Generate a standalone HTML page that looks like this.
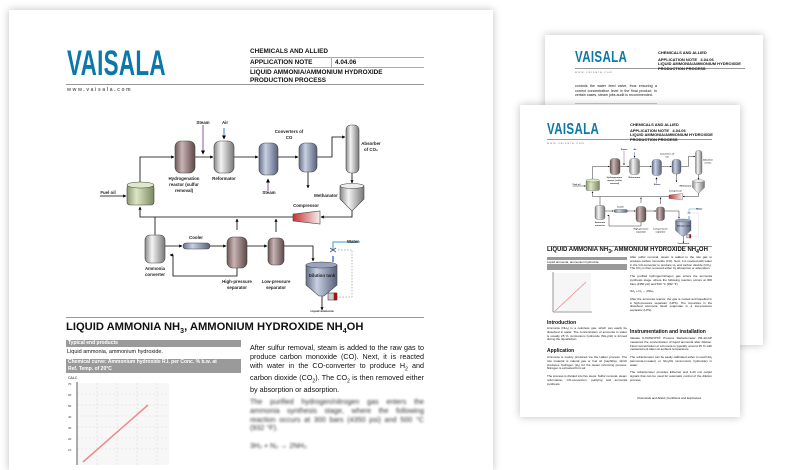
<!DOCTYPE html>
<html><head><meta charset="utf-8">
<style>
*{margin:0;padding:0;box-sizing:border-box}
body{width:800px;height:450px;overflow:hidden;background:#fff;font-family:"Liberation Sans",sans-serif;position:relative}
.pg{position:absolute;background:#fff;box-shadow:0 0 8px rgba(0,0,0,.25)}
.a{position:absolute;white-space:nowrap;color:#111}
.logo{position:absolute;font-weight:bold;color:#0a78a8;letter-spacing:.5px;font-family:"Liberation Sans",sans-serif;transform-origin:0 0}
.hl{position:absolute;background:#999;height:1px}
.bar{position:absolute;background:#9a9a9a;color:#fff;font-weight:bold}
.j{position:absolute;text-align:justify;color:#111}
</style></head><body>
<svg width="0" height="0" style="position:absolute">
<defs>
<linearGradient id="gr" x1="0" x2="1"><stop offset="0" stop-color="#888"/><stop offset=".35" stop-color="#f4f4f4"/><stop offset="1" stop-color="#777"/></linearGradient>
<linearGradient id="br" x1="0" x2="1"><stop offset="0" stop-color="#6d5555"/><stop offset=".35" stop-color="#c8b4b4"/><stop offset="1" stop-color="#5e4848"/></linearGradient>
<linearGradient id="bl" x1="0" x2="1"><stop offset="0" stop-color="#66708a"/><stop offset=".35" stop-color="#c8d0e2"/><stop offset="1" stop-color="#56607a"/></linearGradient>
<linearGradient id="gn" x1="0" x2="1"><stop offset="0" stop-color="#8c9a70"/><stop offset=".35" stop-color="#dde6c4"/><stop offset="1" stop-color="#7a8860"/></linearGradient>
<linearGradient id="rd" x1="0" x2="1"><stop offset="0" stop-color="#c83030"/><stop offset="1" stop-color="#f2f2f2"/></linearGradient>
<marker id="ar" markerWidth="4" markerHeight="4" refX="3.5" refY="2" orient="auto"><path d="M0,0L4,2L0,4z" fill="#000"/></marker>
<symbol id="dg" viewBox="95 118 290 200">
<g stroke="#000" stroke-width=".8" fill="none">
<path d="M100,196H126" marker-end="url(#ar)"/>
<path d="M140,183V157H174" marker-end="url(#ar)"/>
<path d="M195,157H213" marker-end="url(#ar)"/>
<path d="M234,157H258" marker-end="url(#ar)"/>
<path d="M278,157H298" marker-end="url(#ar)"/>
<path d="M317,157H332V137H345" marker-end="url(#ar)"/>
<path d="M308,172V188" marker-end="url(#ar)"/>
<path d="M352,172V183" marker-end="url(#ar)"/>
<path d="M352,210V217H321" marker-end="url(#ar)"/>
<path d="M293,217H140V207" marker-end="url(#ar)"/>
<path d="M237,230V219" marker-end="url(#ar)"/>
<path d="M276,232V219" marker-end="url(#ar)"/>
<path d="M155,217V235"/>
<path d="M165,246H182" marker-end="url(#ar)"/>
<path d="M210,246H226" marker-end="url(#ar)"/>
<path d="M247,246H267" marker-end="url(#ar)"/>
<path d="M284,246H313V261" marker-end="url(#ar)"/>
<path d="M237,267V276H173V255H170" marker-end="url(#ar)"/>
<path d="M322,296V310" marker-end="url(#ar)"/>
</g>
<path d="M203,125V154" stroke="#8a5aa8" stroke-width="1" marker-end="url(#ar)"/>
<path d="M224,128V139" stroke="#3a7ad8" stroke-width="1" marker-end="url(#ar)"/>
<path d="M268,191V179" stroke="#8a5aa8" stroke-width="1" marker-end="url(#ar)"/>
<path d="M360,242H333V250" stroke="#3a9ad8" stroke-width="1" fill="none"/>
<path d="M333,256V262" stroke="#3a7ad8" stroke-width="1.5"/>
<path d="M338,250H352V297H334" stroke="#999" stroke-width=".7" stroke-dasharray="1.5,1.5" fill="none"/>
<g stroke="#444" stroke-width=".6">
<rect x="127" y="185" width="27" height="20" rx="3" fill="url(#gn)"/><ellipse cx="140.5" cy="185" rx="13.5" ry="3" fill="#dfe8c8"/>
<rect x="175" y="141" width="20" height="32" rx="6" fill="url(#br)"/>
<rect x="214" y="141" width="20" height="32" rx="6" fill="url(#gr)"/>
<rect x="259" y="143" width="19" height="32" rx="6" fill="url(#bl)"/>
<rect x="299" y="143" width="18" height="29" rx="6" fill="url(#bl)"/>
<rect x="346" y="125" width="13" height="48" rx="5" fill="url(#gr)"/>
<path d="M340,186H364V199L352,211L340,199Z" fill="url(#gr)"/><ellipse cx="352" cy="186" rx="12" ry="2.5" fill="#eee"/>
<path d="M293,214L320,211V224L293,221Z" fill="url(#rd)"/>
<rect x="145" y="235" width="20" height="28" rx="5" fill="url(#gr)"/>
<rect x="183" y="243" width="27" height="6" rx="3" fill="url(#bl)"/>
<rect x="227" y="237" width="20" height="31" rx="6" fill="url(#br)"/>
<rect x="268" y="238" width="16" height="27" rx="5" fill="url(#br)"/>
<path d="M306,265H337V285L324,296H319L306,285Z" fill="url(#bl)"/><ellipse cx="321.5" cy="265" rx="15.5" ry="3" fill="#9aa4bc"/>
<rect x="328" y="293" width="8" height="7" fill="#ccc"/><rect x="334" y="293" width="3" height="7" fill="#c00"/>
</g>
<path d="M330,248l6,4m0,-4l-6,4" stroke="#555" stroke-width=".8"/>
<g font-family="Liberation Sans" font-size="4.4" fill="#222" text-anchor="middle" font-weight="bold">
<text x="108" y="194">Fuel oil</text>
<text x="203" y="124">Steam</text><text x="225" y="124">Air</text>
<text x="184" y="180">Hydrogenation</text><text x="184" y="186">reactor (sulfur</text><text x="184" y="192">removal)</text>
<text x="224" y="180">Reformator</text>
<text x="289" y="133">Converters of</text><text x="289" y="139">CO</text>
<text x="371" y="145">Absorber</text><text x="371" y="151">of CO₂</text>
<text x="269" y="194">Steam</text>
<text x="326" y="197">Methanator</text>
<text x="306" y="207">Compressor</text>
<text x="196" y="239">Cooler</text>
<text x="155" y="270">Ammonia</text><text x="155" y="276">converter</text>
<text x="237" y="283">High-pressure</text><text x="237" y="289">separator</text>
<text x="276" y="283">Low-pressure</text><text x="276" y="289">separator</text>
<text x="353" y="243">Water</text>
<text x="322" y="277">Dilution tank</text>
<text x="322" y="312" font-size="3">Liquid ammonia</text>
</g>
</symbol>
</defs></svg>

<!-- back small page -->
<div class="pg" style="left:545px;top:35px;width:218px;height:310px">
 <div class="logo" style="left:30px;top:14px;font-size:16px;transform:scaleX(.72)">VAISALA</div>
 <div class="hl" style="left:30px;top:33px;width:170px"></div>
 <div class="a" style="left:30px;top:35px;font-size:3px;color:#777;letter-spacing:1px">www.vaisala.com</div>
 <div class="a" style="left:113px;top:15px;font-size:4px;font-weight:bold">CHEMICALS AND ALLIED</div>
 <div class="a" style="left:113px;top:22px;font-size:4px;font-weight:bold">APPLICATION NOTE &nbsp; 4.04.06</div>
 <div class="a" style="left:113px;top:27px;font-size:4px;font-weight:bold;line-height:4.5px">LIQUID AMMONIA/AMMONIUM HYDROXIDE<br>PRODUCTION PROCESS</div>
 <div class="j" style="left:30px;top:49px;width:82px;font-size:3.6px;line-height:4.5px">controls the water feed valve, thus ensuring a correct concentration level in the final product. In certain cases, steam jobs audit is recommended.</div>
 <div class="hl" style="left:30px;top:68px;width:82px;background:#ccc"></div>
</div>

<!-- front small page -->
<div class="pg" style="left:520px;top:105px;width:220px;height:312px">
 <div class="logo" style="left:27px;top:16px;font-size:16px;transform:scaleX(.72)">VAISALA</div>
 <div class="hl" style="left:27px;top:34px;width:165px"></div>
 <div class="a" style="left:27px;top:36px;font-size:3px;color:#777;letter-spacing:1px">www.vaisala.com</div>
 <div class="a" style="left:110px;top:17px;font-size:4px;font-weight:bold">CHEMICALS AND ALLIED</div>
 <div class="a" style="left:110px;top:23px;font-size:4px;font-weight:bold">APPLICATION NOTE &nbsp; 4.04.06</div>
 <div class="a" style="left:110px;top:28px;font-size:4px;font-weight:bold;line-height:4.5px">LIQUID AMMONIA/AMMONIUM HYDROXIDE<br>PRODUCTION PROCESS</div>
 <svg style="position:absolute;left:37px;top:42px" width="171" height="100"><use href="#dg" width="171" height="100"/></svg>
 <div class="hl" style="left:27px;top:141px;width:165px"></div>
 <div class="a" style="left:27px;top:142px;font-size:6px;font-weight:bold">LIQUID AMMONIA NH<sub>3</sub>, AMMONIUM HYDROXIDE NH<sub>4</sub>OH</div>
 <div class="bar" style="left:27px;top:152px;width:80px;height:3px"></div>
 <div class="a" style="left:27px;top:155px;font-size:3px">Liquid ammonia, ammonium hydroxide.</div>
 <div class="bar" style="left:27px;top:159px;width:80px;height:6px"></div>
 <svg style="position:absolute;left:30px;top:167px" width="45" height="42"><rect x="3" y="1" width="38" height="38" fill="#f6f6f6"/><path d="M3,0V40H42" stroke="#333" stroke-width=".5" fill="none"/><path d="M5,39L36,10" stroke="#e88" stroke-width=".8"/></svg>
 <div class="a" style="left:27px;top:215px;font-size:5px;font-weight:bold">Introduction</div>
 <div class="j" style="left:27px;top:222px;width:80px;font-size:3px;line-height:3.8px">Ammonia (NH₃) is a colorless gas, which can easily be dissolved in water. The concentration of ammonia in water is usually 25 %. Ammonium hydroxide (NH₄OH) is formed during the liquefaction.</div>
 <div class="a" style="left:27px;top:243px;font-size:5px;font-weight:bold">Application</div>
 <div class="j" style="left:27px;top:251px;width:80px;font-size:3px;line-height:3.8px">Ammonia is mainly produced via the Haber process. The raw material is natural gas or fuel oil (naphtha), which produces hydrogen (H₂) for the steam reforming process. Nitrogen is extracted from air.<br><br>The process is divided into five steps: Sulfur removal, steam reformation, CO-conversion, purifying and ammonia synthesis.</div>
 <div class="j" style="left:110px;top:151px;width:82px;font-size:3px;line-height:3.8px">After sulfur removal, steam is added to the raw gas to produce carbon monoxide (CO). Next, it is reacted with water in the CO-converter to produce H₂ and carbon dioxide (CO₂). The CO₂ is then removed either by absorption or adsorption.<br><br>The purified hydrogen/nitrogen gas enters the ammonia synthesis stage, where the following reaction occurs at 300 bars (4350 psi) and 500 °C (932 °F).<br><br>3H₂ + N₂ → 2NH₃<br><br>After the ammonia reactor, the gas is cooled and liquefied in a high-pressure separator (HPS). The impurities in the dissolved ammonia liquid evaporate in a low-pressure separator (LPS).</div>
 <div class="a" style="left:110px;top:224px;font-size:5px;font-weight:bold">Instrumentation and installation</div>
 <div class="j" style="left:110px;top:232px;width:82px;font-size:3px;line-height:3.8px">Vaisala K-PATENTS® Process Refractometer PR-43-GP measures the concentration of liquid ammonia after dilution. Final concentration of ammonia is typically around 25 % with measurement taken at ambient temperature.<br><br>The refractometer can be easily calibrated either to read NH₃ (ammonia-in-water) or NH₄OH (ammonium hydroxide) in water.<br><br>The refractometer provides Ethernet and 4-20 mA output signals that can be used for automatic control of the dilution process.</div>
 <div class="a" style="left:117px;top:291px;font-size:3px">Chemicals and Allied | Fertilizers and Explosives</div>
</div>

<!-- main page -->
<div class="pg" style="left:9px;top:10px;width:484px;height:460px">
 <div class="logo" style="left:58px;top:34px;font-size:35px;transform:scaleX(.64)">VAISALA</div>
 <div class="hl" style="left:57px;top:74px;width:358px;background:#999"></div>
 <div class="a" style="left:58px;top:77px;font-size:5px;color:#666;letter-spacing:1.6px;font-weight:bold">www.vaisala.com</div>
 <div class="a" style="left:241px;top:38px;font-size:6.4px;font-weight:bold">CHEMICALS AND ALLIED</div>
 <div class="hl" style="left:241px;top:47px;width:174px;background:#aaa"></div>
 <div class="a" style="left:241px;top:49px;font-size:6.4px;font-weight:bold">APPLICATION NOTE</div>
 <div class="hl" style="left:322px;top:47px;width:1px;height:11px;background:#aaa"></div>
 <div class="a" style="left:326px;top:49px;font-size:6.4px;font-weight:bold">4.04.06</div>
 <div class="hl" style="left:241px;top:57px;width:174px;background:#aaa"></div>
 <div class="a" style="left:241px;top:59px;font-size:6.4px;font-weight:bold;line-height:8px">LIQUID AMMONIA/AMMONIUM HYDROXIDE<br>PRODUCTION PROCESS</div>
 <svg style="position:absolute;left:86px;top:108px" width="290" height="200"><use href="#dg" width="290" height="200"/></svg>
 <div class="hl" style="left:57px;top:307px;width:358px;background:#999"></div>
 <div class="a" style="left:57px;top:311px;font-size:11.2px;font-weight:bold;line-height:13px">LIQUID AMMONIA NH<sub style="font-size:7px;line-height:0">3</sub>, AMMONIUM HYDROXIDE NH<sub style="font-size:7px;line-height:0">4</sub>OH</div>
 <div class="bar" style="left:57px;top:330px;width:175px;height:7px;font-size:5px;padding-left:2px;line-height:7px">Typical end products</div>
 <div class="a" style="left:58px;top:339px;font-size:5.5px">Liquid ammonia, ammonium hydroxide.</div>
 <div class="bar" style="left:57px;top:349px;width:175px;height:14px;font-size:5px;padding-left:2px;line-height:6.5px">Chemical curve: Ammonium hydroxide R.I. per Conc. % b.w. at<br>Ref. Temp. of 20°C</div>
 <div class="a" style="left:59px;top:366px;font-size:3.5px">CALC</div>
 <svg style="position:absolute;left:56px;top:370px" width="110" height="85">
  <rect x="12" y="3" width="92" height="82" fill="#f7f7f7"/>
  <g stroke="#ddd" stroke-width=".6" stroke-dasharray="2,2"><path d="M12,14H104M12,25H104M12,36H104M12,47H104M12,58H104M12,69H104M32,3V85M52,3V85M72,3V85M92,3V85"/></g>
  <path d="M12,2V85" stroke="#333" stroke-width=".8"/>
  <path d="M18,82L83,25" stroke="#f08a8a" stroke-width="1.5"/>
  <g font-size="3" font-family="Liberation Sans" fill="#333"><text x="3" y="5">70</text><text x="3" y="16">60</text><text x="3" y="27">50</text><text x="3" y="38">40</text><text x="3" y="49">30</text><text x="3" y="60">20</text><text x="3" y="71">10</text></g>
 </svg>
 <div class="j" style="left:241px;top:334px;width:174px;font-size:7.2px;line-height:8.8px">After sulfur removal, steam is added to the raw gas to produce carbon monoxide (CO). Next, it is reacted with water in the CO-converter to produce H<sub style="font-size:5px">2</sub> and carbon dioxide (CO<sub style="font-size:5px">2</sub>). The CO<sub style="font-size:5px">2</sub> is then removed either by absorption or adsorption.</div>
 <div class="j" style="left:241px;top:388px;width:174px;font-size:7.2px;line-height:8.8px;filter:blur(1px);color:#333">The purified hydrogen/nitrogen gas enters the ammonia synthesis stage, where the following reaction occurs at 300 bars (4350 psi) and 500 °C (932 °F).<br><br>3H₂ + N₂ → 2NH₃</div>
</div>
</body></html>
